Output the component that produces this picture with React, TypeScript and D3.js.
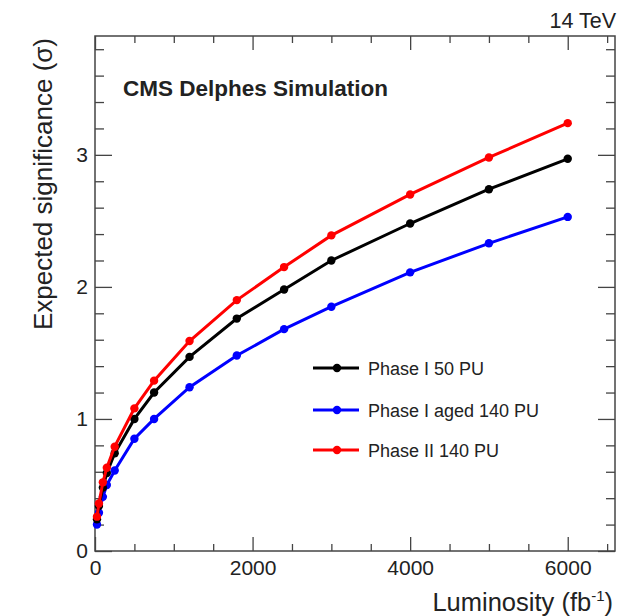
import React, { useEffect, useRef } from "react";
import * as d3 from "d3";

const luminosity = [25, 50, 100, 150, 250, 500, 750, 1200, 1800, 2400, 3000, 4000, 5000, 6000];
const phaseI50PU = [0.24, 0.34, 0.48, 0.59, 0.74, 1.0, 1.2, 1.47, 1.76, 1.98, 2.2, 2.48, 2.74, 2.97];
const phaseIAged140PU = [0.2, 0.29, 0.41, 0.5, 0.61, 0.85, 1.0, 1.24, 1.48, 1.68, 1.85, 2.11, 2.33, 2.53];
const phaseII140PU = [0.26, 0.36, 0.52, 0.63, 0.79, 1.08, 1.29, 1.59, 1.9, 2.15, 2.39, 2.7, 2.98, 3.24];

const seriesNames = ["Phase I 50 PU", "Phase I aged 140 PU", "Phase II 140 PU"];
const seriesValues = [phaseI50PU, phaseIAged140PU, phaseII140PU];
const seriesColors = ["#000000", "#0000ff", "#ff0000"];

const xMajorTicks = [0, 2000, 4000, 6000];
const yMajorTicks = [0, 1, 2, 3];

const W = 634;
const H = 616;
const FONT = "'Liberation Sans', Arial, Helvetica, sans-serif";

export default function App() {
  const ref = useRef<SVGSVGElement | null>(null);

  useEffect(() => {
    const svg = d3.select(ref.current);
    svg.selectAll("*").remove();

    const left = 95, right = 615, top = 36, bottom = 551;
    const x = d3.scaleLinear().domain([0, 6600]).range([left, right]);
    const y = d3.scaleLinear().domain([0, 3.9]).range([bottom, top]);

    const xMinor = d3.range(0, 6601, 500).filter((v) => v % 2000 !== 0);
    const yMinor = d3.range(0, 39).map((i) => +(i * 0.2).toFixed(2)).filter((v) => v <= 3.9 && Math.abs(v - Math.round(v)) > 1e-6);

    const axisColor = "#444";
    const styleAxis = (g: any) => {
      g.select(".domain").remove();
      g.selectAll(".tick line").attr("stroke", axisColor).attr("stroke-width", 1.3);
      g.selectAll(".tick text")
        .attr("fill", "#222")
        .style("font-family", FONT)
        .style("font-size", "21px");
    };

    // bottom
    svg.append("g").attr("transform", `translate(0,${bottom})`)
      .call(d3.axisBottom(x).tickValues(xMajorTicks).tickSize(-14).tickPadding(9).tickFormat(d3.format("d")))
      .call(styleAxis);
    svg.append("g").attr("transform", `translate(0,${bottom})`)
      .call(d3.axisBottom(x).tickValues(xMinor).tickSize(-7).tickFormat(() => ""))
      .call(styleAxis);
    // top
    svg.append("g").attr("transform", `translate(0,${top})`)
      .call(d3.axisTop(x).tickValues(xMajorTicks).tickSize(-14).tickFormat(() => ""))
      .call(styleAxis);
    svg.append("g").attr("transform", `translate(0,${top})`)
      .call(d3.axisTop(x).tickValues(xMinor).tickSize(-7).tickFormat(() => ""))
      .call(styleAxis);
    // left
    svg.append("g").attr("transform", `translate(${left},0)`)
      .call(d3.axisLeft(y).tickValues(yMajorTicks).tickSize(-17).tickPadding(7).tickFormat(d3.format("d")))
      .call(styleAxis);
    svg.append("g").attr("transform", `translate(${left},0)`)
      .call(d3.axisLeft(y).tickValues(yMinor).tickSize(-9).tickFormat(() => ""))
      .call(styleAxis);
    // right
    svg.append("g").attr("transform", `translate(${right},0)`)
      .call(d3.axisRight(y).tickValues(yMajorTicks).tickSize(-17).tickFormat(() => ""))
      .call(styleAxis);
    svg.append("g").attr("transform", `translate(${right},0)`)
      .call(d3.axisRight(y).tickValues(yMinor).tickSize(-9).tickFormat(() => ""))
      .call(styleAxis);

    // frame
    svg.append("rect")
      .attr("x", left).attr("y", top)
      .attr("width", right - left).attr("height", bottom - top)
      .attr("fill", "none").attr("stroke", axisColor).attr("stroke-width", 1.5);

    // series
    const line = d3.line<number>()
      .x((_, i) => x(luminosity[i]))
      .y((d) => y(d));

    const order = [1, 0, 2];
    order.forEach((s) => {
      const g = svg.append("g");
      g.append("path")
        .attr("d", line(seriesValues[s]))
        .attr("fill", "none")
        .attr("stroke", seriesColors[s])
        .attr("stroke-width", 3);
      g.selectAll("circle")
        .data(seriesValues[s])
        .join("circle")
        .attr("cx", (_, i) => x(luminosity[i]))
        .attr("cy", (d) => y(d))
        .attr("r", 4.2)
        .attr("fill", seriesColors[s]);
    });

    // legend
    const legendY = [368, 410, 450];
    seriesNames.forEach((name, s) => {
      const g = svg.append("g").attr("transform", `translate(0,${legendY[s]})`);
      g.append("line").attr("x1", 313).attr("x2", 359).attr("y1", 0).attr("y2", 0)
        .attr("stroke", seriesColors[s]).attr("stroke-width", 3);
      g.append("circle").attr("cx", 337).attr("cy", 0).attr("r", 4.2).attr("fill", seriesColors[s]);
      g.append("text").attr("x", 368).attr("y", 6.5)
        .attr("fill", "#222")
        .style("font-family", FONT).style("font-size", "18px")
        .text(name);
    });

    // texts
    svg.append("text").attr("x", 123).attr("y", 96)
      .attr("fill", "#222").style("font-family", FONT).style("font-size", "22.5px").style("font-weight", "bold")
      .text("CMS Delphes Simulation");
    svg.append("text").attr("x", 616).attr("y", 28).attr("text-anchor", "end")
      .attr("fill", "#222").style("font-family", FONT).style("font-size", "21.5px")
      .text("14 TeV");

    const xt = svg.append("text").attr("x", 613).attr("y", 611).attr("text-anchor", "end")
      .attr("fill", "#222").style("font-family", FONT).style("font-size", "25.5px");
    xt.append("tspan").text("Luminosity (fb");
    xt.append("tspan").attr("dy", -10).style("font-size", "15px").text("-1");
    xt.append("tspan").attr("dy", 10).text(")");

    svg.append("text")
      .attr("transform", `translate(52,38) rotate(-90)`)
      .attr("text-anchor", "end")
      .attr("fill", "#222").style("font-family", FONT).style("font-size", "26px")
      .text("Expected significance (σ)");
  }, []);

  return (
    <svg
      ref={ref}
      width={W}
      height={H}
      style={{ position: "absolute", left: 0, top: 0, background: "#fff" }}
    />
  );
}
